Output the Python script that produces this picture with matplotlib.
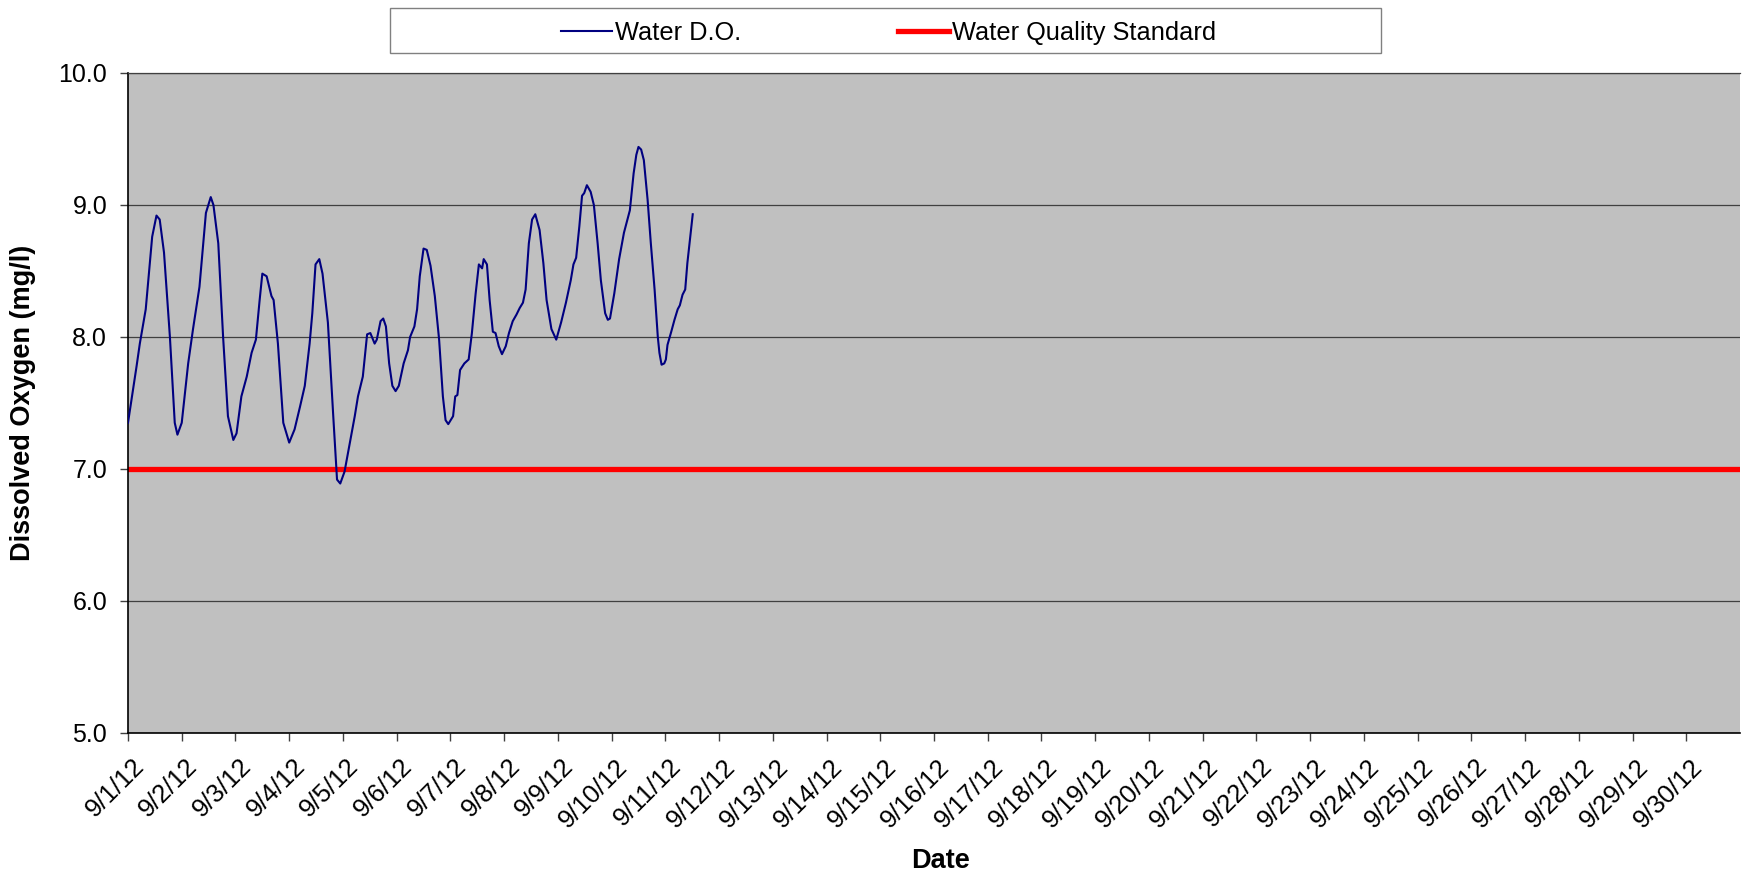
"""
Dissolved oxygen record for September 2012 against the water quality standard.
"""

import matplotlib
matplotlib.use('Agg')
import matplotlib.pyplot as plt
import matplotlib.transforms as mtransforms
from matplotlib.patches import Rectangle
import pandas as pd

plt.rcParams['font.family'] = ['Liberation Sans', 'DejaVu Sans']

# ── Data ──────────────────────────────────────────────────────────────────────
# time in days since 9/1/12 00:00
do_days = [
    0.00, 0.16, 0.22, 0.33, 0.45, 0.53, 0.59, 0.67, 0.78, 0.87, 0.92, 1.00,
    1.12, 1.21, 1.33, 1.45, 1.54, 1.59, 1.68, 1.77, 1.86, 1.96, 2.02, 2.11,
    2.21, 2.30, 2.38, 2.45, 2.50, 2.58, 2.67, 2.71, 2.79, 2.89, 3.00, 3.10,
    3.20, 3.29, 3.38, 3.43, 3.49, 3.56, 3.62, 3.72, 3.82, 3.89, 3.95, 4.03,
    4.13, 4.22, 4.28, 4.37, 4.45, 4.51, 4.59, 4.63, 4.70, 4.75, 4.80, 4.86,
    4.92, 4.98, 5.04, 5.13, 5.21, 5.25, 5.33, 5.38, 5.43, 5.50, 5.56, 5.63,
    5.71, 5.79, 5.86, 5.91, 5.96, 6.05, 6.09, 6.13, 6.18, 6.26, 6.34, 6.40,
    6.47, 6.53, 6.59, 6.62, 6.68, 6.73, 6.79, 6.84, 6.90, 6.96, 7.03, 7.09,
    7.16, 7.23, 7.29, 7.35, 7.40, 7.46, 7.52, 7.58, 7.66, 7.73, 7.79, 7.88,
    7.97, 8.06, 8.15, 8.24, 8.29, 8.34, 8.40, 8.45, 8.49, 8.54, 8.61, 8.67,
    8.74, 8.80, 8.88, 8.93, 8.97, 9.05, 9.14, 9.23, 9.30, 9.34, 9.41, 9.46,
    9.50, 9.55, 9.60, 9.67, 9.73, 9.80, 9.86, 9.89, 9.93, 9.98, 10.01, 10.04,
    10.11, 10.17, 10.23, 10.27, 10.32, 10.37, 10.41, 10.51,
]
do_values = [
    7.35, 7.78, 7.95, 8.21, 8.76, 8.92, 8.89, 8.64, 8.00, 7.35, 7.26, 7.35,
    7.80, 8.06, 8.38, 8.94, 9.06, 9.00, 8.71, 8.00, 7.40, 7.22, 7.27, 7.55,
    7.70, 7.88, 7.98, 8.28, 8.48, 8.46, 8.31, 8.28, 7.95, 7.35, 7.20, 7.30,
    7.47, 7.63, 7.95, 8.18, 8.55, 8.59, 8.48, 8.11, 7.40, 6.92, 6.89, 6.98,
    7.20, 7.40, 7.55, 7.70, 8.02, 8.03, 7.95, 7.98, 8.12, 8.14, 8.08, 7.80,
    7.63, 7.59, 7.63, 7.80, 7.90, 8.00, 8.08, 8.21, 8.46, 8.67, 8.66, 8.54,
    8.31, 7.98, 7.55, 7.37, 7.34, 7.40, 7.55, 7.56, 7.75, 7.80, 7.83, 8.03,
    8.33, 8.55, 8.52, 8.59, 8.55, 8.28, 8.04, 8.03, 7.93, 7.87, 7.93, 8.03,
    8.12, 8.17, 8.22, 8.26, 8.36, 8.71, 8.89, 8.93, 8.81, 8.56, 8.28, 8.06,
    7.98, 8.11, 8.26, 8.43, 8.55, 8.60, 8.84, 9.07, 9.09, 9.15, 9.10, 9.00,
    8.71, 8.43, 8.18, 8.13, 8.14, 8.33, 8.59, 8.79, 8.90, 8.96, 9.24, 9.38,
    9.44, 9.42, 9.34, 9.04, 8.71, 8.36, 8.00, 7.88, 7.79, 7.80, 7.83, 7.94,
    8.04, 8.13, 8.21, 8.24, 8.32, 8.36, 8.56, 8.93,
]
standard_value = 7.0

# one tick per day, 9/1/12 .. 9/30/12
tick_dates = pd.date_range('2012-09-01', '2012-09-30', freq='D')
tick_labels = [f"{d.month}/{d.day}/{d.strftime('%y')}" for d in tick_dates]
y_ticks = [5.0, 6.0, 7.0, 8.0, 9.0, 10.0]

# ── Figure ─────────────────────────────────────────────────────────────────────
fig = plt.figure(figsize=(17.42, 8.73), dpi=100)
ax = fig.add_axes([128 / 1742, 1 - 733 / 873, 1612 / 1742, 660 / 873])
ax.set_facecolor('#C0C0C0')

line_do, = ax.plot(do_days, do_values, color='#000080', lw=1.5,
                   label='Water D.O.', zorder=3)
line_std = ax.axhline(standard_value, color='#FF0000', lw=3.8,
                      label='Water Quality Standard', zorder=2)

ax.set_xlim(0, len(tick_labels))
ax.set_ylim(5, 10)
ax.set_yticks(y_ticks)
ax.set_yticklabels([f'{v:.1f}' for v in y_ticks], fontsize=18)
ax.set_xticks(range(len(tick_labels)))
ax.set_xticklabels(tick_labels, rotation=45, ha='right', va='center',
                   rotation_mode='anchor', fontsize=18.5)
ax.tick_params(axis='both', direction='out', length=6, width=1,
               color='#404040')
ax.tick_params(axis='y', pad=9)
ax.tick_params(axis='x', pad=15.5)

# nudge the slanted date labels to the right of their ticks
shift = mtransforms.ScaledTranslation(12 / 100, 0, fig.dpi_scale_trans)
for lbl in ax.get_xticklabels():
    lbl.set_transform(lbl.get_transform() + shift)

ax.grid(axis='y', color='#404040', lw=0.9)
ax.set_axisbelow(True)
ax.spines['right'].set_visible(False)
ax.spines['top'].set_color('#404040')
ax.spines['top'].set_linewidth(0.9)
for s in ('left', 'bottom'):
    ax.spines[s].set_color('black')
    ax.spines[s].set_linewidth(1.2)

ax.set_ylabel('Dissolved Oxygen (mg/l)', fontsize=19.5, fontweight='bold')
ax.yaxis.set_label_coords(-0.057, 0.5)
ax.set_xlabel('Date', fontsize=19.5, fontweight='bold')
ax.xaxis.set_label_coords(0.504, -0.175)

# ── Legend box across the top ──────────────────────────────────────────────────
fig.patches.append(Rectangle((390 / 1742, 1 - 53 / 873), 991 / 1742, 45 / 873,
                             transform=fig.transFigure, facecolor='white',
                             edgecolor='#808080', lw=1.0, zorder=0))
fig.legend(handles=[line_do, line_std], loc='center',
           bbox_to_anchor=(0.510, 1 - 33 / 873), ncol=2, frameon=False,
           fontsize=18.3, handlelength=2.0, handletextpad=0.1,
           columnspacing=6.2)

fig.savefig('out.png', dpi=100)
